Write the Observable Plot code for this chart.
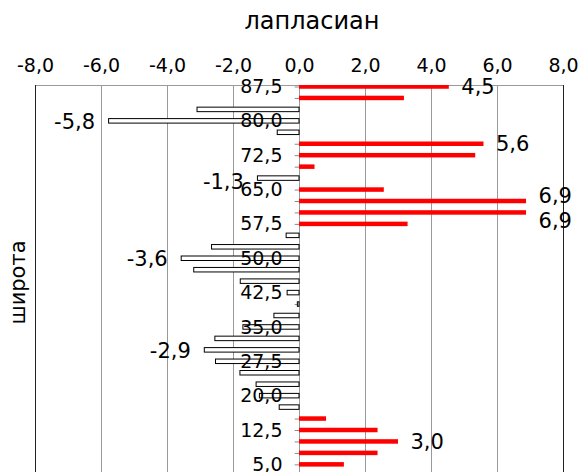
<!DOCTYPE html>
<html>
<head>
<meta charset="utf-8">
<script src="https://cdn.jsdelivr.net/npm/d3@7"></script>
<script src="https://cdn.jsdelivr.net/npm/@observablehq/plot@0.6"></script>
<style>
html, body { margin: 0; padding: 0; background: #fff; overflow: hidden; }
#wrap { position: relative; width: 579px; height: 472px; overflow: hidden; }
#chart { position: absolute; left: 0; top: 0; }
#title { position: absolute; left: 112px; width: 400px; top: 9px; text-align: center;
  font-family: "DejaVu Sans"; font-size: 24px; line-height: 24px; color: #000; }
#ylab { position: absolute; left: -82.5px; width: 200px; top: 271.5px; text-align: center;
  font-family: "DejaVu Sans"; font-size: 21px; line-height: 21px; color: #000;
  transform: rotate(-90deg); }
</style>
</head>
<body>
<div id="wrap">
  <div id="chart"></div>
  <div id="title">лапласиан</div>
  <div id="ylab">широта</div>
</div>
<script>
// Latitudes (categories), top to bottom
const latitudes = [87.5, 85.0, 82.5, 80.0, 77.5, 75.0, 72.5, 70.0, 67.5, 65.0,
  62.5, 60.0, 57.5, 55.0, 52.5, 50.0, 47.5, 45.0, 42.5, 40.0,
  37.5, 35.0, 32.5, 30.0, 27.5, 25.0, 22.5, 20.0, 17.5, 15.0,
  12.5, 10.0, 7.5, 5.0];
// Laplacian values
const values = [4.54, 3.18, -3.09, -5.77, -0.66, 5.59, 5.34, 0.47, -1.26, 2.57,
  6.88, 6.88, 3.29, -0.39, -2.65, -3.57, -3.19, -1.78, -0.36, -0.05,
  -0.76, -1.7, -2.55, -2.87, -2.53, -1.79, -1.3, -1.2, -0.6, 0.82,
  2.38, 3.0, 2.38, 1.36];
// Latitudes that carry a value label
const labeledLatitudes = [87.5, 80.0, 75.0, 67.5, 62.5, 60.0, 50.0, 30.0, 10.0];
// Latitude tick labels
const axisLatitudes = [87.5, 80.0, 72.5, 65.0, 57.5, 50.0, 42.5, 35.0, 27.5, 20.0, 12.5, 5.0];
// X ticks
const xTicks = [-8, -6, -4, -2, 0, 2, 4, 6, 8];

const locale = d3.formatLocale({decimal: ",", thousands: " ", grouping: [3], currency: ["", ""], minus: "-"});
const fmt = locale.format(".1f");

const data = latitudes.map((lat, i) => ({lat, value: values[i]}));
const pos = data.filter(d => d.value >= 0);
const neg = data.filter(d => d.value < 0);
const lab = data.filter(d => labeledLatitudes.includes(d.lat));
const labPlain = lab.filter(d => ![67.5, 62.5, 60.0].includes(d.lat));

const labelStyle = {fontSize: 21, fill: "#000", text: d => fmt(d.value)};

const chart = Plot.plot({
  width: 579,
  height: 482,
  marginTop: 85,
  marginLeft: 35,
  marginRight: 16,
  marginBottom: 0,
  style: {fontFamily: "DejaVu Sans", fontSize: "19px", color: "#000", background: "#fff"},
  x: {domain: [-8, 8], ticks: xTicks, tickFormat: fmt, axis: "top", tickSize: 0, tickPadding: 14, label: null},
  y: {type: "band", domain: latitudes, range: [84.25, 466.6], paddingInner: 0.607, paddingOuter: 0, round: false, axis: null},
  marks: [
    Plot.frame({stroke: "#9a9a9a"}),
    Plot.ruleX(xTicks, {stroke: "#9a9a9a"}),
    Plot.ruleX([-8, 8], {stroke: "#222"}),
    Plot.ruleY(latitudes, {y: d => d, x1: -0.13, x2: 0, stroke: "#888"}),
    Plot.barX(pos, {y: "lat", x1: 0, x2: "value", fill: "#ff0000", clip: true}),
    Plot.barX(neg, {y: "lat", x1: 0, x2: "value", fill: "#fff", stroke: "#000", strokeWidth: 1, clip: true}),
    Plot.text(axisLatitudes, {x: 0, y: d => d, text: d => fmt(d), textAnchor: "end", dx: -17, fontSize: 19, fill: "#000"}),
    Plot.text(labPlain.filter(d => d.value > 0), {...labelStyle, x: "value", y: "lat", textAnchor: "start", dx: 12}),
    Plot.text(labPlain.filter(d => d.value < 0), {...labelStyle, x: "value", y: "lat", textAnchor: "end", dx: -14, dy: 1}),
    Plot.text(lab.filter(d => d.lat === 67.5), {...labelStyle, x: "value", y: "lat", textAnchor: "end", dx: -14, dy: 4}),
    Plot.text(lab.filter(d => d.lat === 62.5), {...labelStyle, x: "value", y: "lat", textAnchor: "start", dx: 12, dy: -5}),
    Plot.text(lab.filter(d => d.lat === 60.0), {...labelStyle, x: "value", y: "lat", textAnchor: "start", dx: 12, dy: 8})
  ]
});
document.getElementById("chart").appendChild(chart);
</script>
</body>
</html>
